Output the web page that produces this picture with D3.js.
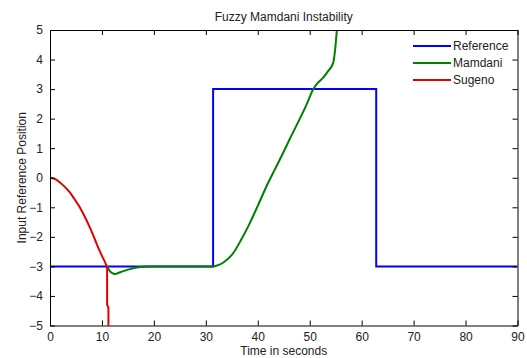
<!DOCTYPE html>
<html>
<head>
<meta charset="utf-8">
<script src="https://cdn.jsdelivr.net/npm/d3@7"></script>
<style>
  body { margin: 0; background: #fff; }
  text { font-family: Arial, "Liberation Sans", sans-serif; fill: #222; }
</style>
</head>
<body>
<div id="chart"></div>
<script>
// Reference step signal (time, value)
const referenceData = [
    [0, -3], [31.4, -3], [31.4, 3], [62.8, 3], [62.8, -3], [90, -3]
];

// Mamdani controller response
const mamdaniData = [
    [11.0, -3.0], [11.5, -3.15], [12.0, -3.23], [12.5, -3.26], [13.5, -3.2],
    [15.0, -3.11], [17.0, -3.03], [19.0, -3.0], [25.0, -3.0], [31.4, -3.0],
    [32.5, -2.95], [33.5, -2.85], [35.2, -2.57], [36.8, -2.1], [38.4, -1.56],
    [40.0, -0.95], [41.6, -0.32], [43.2, 0.25], [44.8, 0.81], [46.4, 1.4],
    [48.1, 2.0], [49.5, 2.52], [50.6, 2.97], [51.5, 3.2], [52.5, 3.37],
    [53.5, 3.6], [54.5, 3.88], [55.2, 4.95], [55.6, 6.0]
];

// Sugeno controller response
const sugenoData = [
    [0, 0], [0.9, -0.04], [1.87, -0.15], [2.8, -0.3], [3.79, -0.49],
    [4.7, -0.72], [5.7, -0.99], [6.7, -1.32], [7.64, -1.67], [8.45, -2.0],
    [9.24, -2.35], [10.05, -2.66], [10.85, -2.97], [11.0, -3.05]
];
const sugenoDrop = [[11.0, -3.05], [11.0, -4.3], [11.25, -4.4], [11.25, -5.5]];

const xTicks = [0, 10, 20, 30, 40, 50, 60, 70, 80, 90];
const yTicks = [-5, -4, -3, -2, -1, 0, 1, 2, 3, 4, 5];

const series = [
    { name: "Reference", color: "#0000ff" },
    { name: "Mamdani", color: "#008000" },
    { name: "Sugeno", color: "#e00000" }
];

const width = 527;
const height = 358;
const margin = { top: 30, right: 9.5, bottom: 32.5, left: 50 };
const innerW = width - margin.left - margin.right;
const innerH = height - margin.top - margin.bottom;

const svg = d3.select("#chart")
    .append("svg")
    .attr("width", width)
    .attr("height", height);

const g = svg.append("g")
    .attr("transform", `translate(${margin.left},${margin.top})`);

const x = d3.scaleLinear().domain([0, 90]).range([0, innerW]);
const y = d3.scaleLinear().domain([-5, 5]).range([innerH, 0]);

g.append("clipPath").attr("id", "clip")
    .append("rect").attr("width", innerW).attr("height", innerH);

const line = d3.line().x(d => x(d[0])).y(d => y(d[1]));
const smooth = d3.line().curve(d3.curveMonotoneX).x(d => x(d[0])).y(d => y(d[1]));

function drawPath(data, gen, color) {
    g.append("path")
        .datum(data)
        .attr("clip-path", "url(#clip)")
        .attr("fill", "none")
        .attr("stroke", color)
        .attr("stroke-width", 2)
        .attr("d", gen);
}

drawPath(referenceData, line, series[0].color);
drawPath(mamdaniData, smooth, series[1].color);
drawPath(sugenoData, smooth, series[2].color);
drawPath(sugenoDrop, line, series[2].color);

// Axes with inward ticks on all four sides
const tickLen = 5;
g.append("g")
    .attr("transform", `translate(0,${innerH})`)
    .call(d3.axisBottom(x).tickValues(xTicks).tickSizeInner(-tickLen).tickSizeOuter(0).tickPadding(7));
g.append("g")
    .call(d3.axisTop(x).tickValues(xTicks).tickSizeInner(-tickLen).tickSizeOuter(0).tickFormat(""));
g.append("g")
    .call(d3.axisLeft(y).tickValues(yTicks).tickSizeInner(-tickLen).tickSizeOuter(0).tickPadding(7));
g.append("g")
    .attr("transform", `translate(${innerW},0)`)
    .call(d3.axisRight(y).tickValues(yTicks).tickSizeInner(-tickLen).tickSizeOuter(0).tickFormat(""));

g.selectAll(".domain, .tick line").attr("stroke", "#000");
g.selectAll(".tick text")
    .style("font-size", "12px")
    .style("font-family", "Arial, 'Liberation Sans', sans-serif")
    .attr("fill", "#222");

// Title and axis labels
svg.append("text")
    .attr("x", margin.left + innerW / 2)
    .attr("y", 21)
    .attr("text-anchor", "middle")
    .style("font-size", "12px")
    .text("Fuzzy Mamdani Instability");

svg.append("text")
    .attr("x", margin.left + innerW / 2)
    .attr("y", 355)
    .attr("text-anchor", "middle")
    .style("font-size", "12px")
    .text("Time in seconds");

svg.append("text")
    .attr("transform", `translate(26,${margin.top + innerH / 2}) rotate(-90)`)
    .attr("text-anchor", "middle")
    .style("font-size", "12px")
    .text("Input Reference Position");

// Legend (no box)
const legend = svg.append("g").attr("transform", "translate(413,46)");
series.forEach((s, i) => {
    const row = legend.append("g").attr("transform", `translate(0,${i * 17})`);
    row.append("line")
        .attr("x1", 0).attr("x2", 38)
        .attr("stroke", s.color)
        .attr("stroke-width", 2);
    row.append("text")
        .attr("x", 40)
        .attr("dy", "0.35em")
        .style("font-size", "12px")
        .text(s.name);
});
</script>
</body>
</html>
